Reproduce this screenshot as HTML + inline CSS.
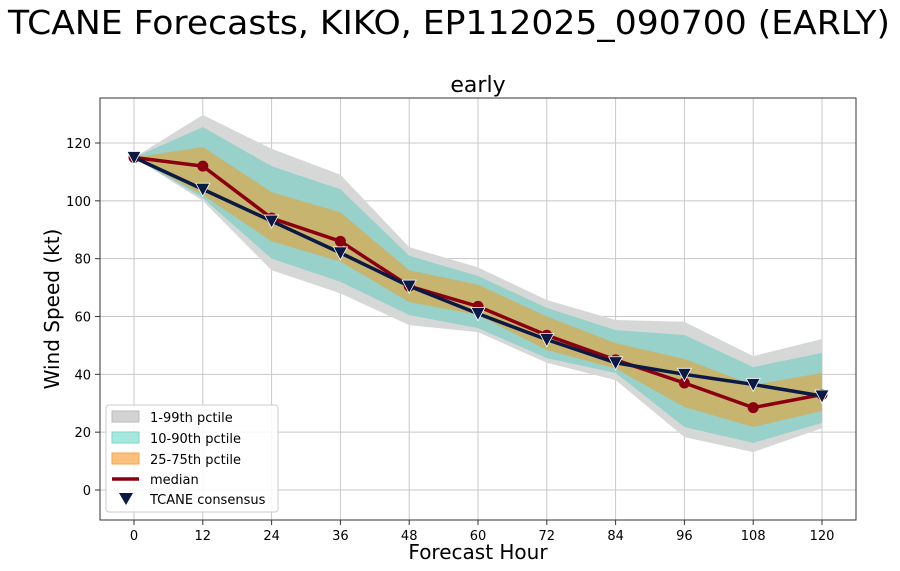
<!DOCTYPE html>
<html><head><meta charset="utf-8">
<style>
body{margin:0;background:#fff;}
svg{display:block;font-family:"DejaVu Sans","Liberation Sans",sans-serif;}
</style></head>
<body>
<svg id="chart" width="900" height="571" xmlns="http://www.w3.org/2000/svg">
<text x="449" y="34" font-size="33" text-anchor="middle" textLength="882" lengthAdjust="spacingAndGlyphs">TCANE Forecasts, KIKO, EP112025_090700 (EARLY)</text>
<text x="478" y="92" font-size="22" text-anchor="middle">early</text>
<g id="grid"></g>
<g id="bands"></g>
<g id="lines"></g>
<rect x="100" y="98" width="756" height="422" fill="none" stroke="#333" stroke-width="1"/>
<g id="ticks"></g>
<text x="478" y="559" font-size="20" text-anchor="middle">Forecast Hour</text>
<text transform="translate(59,309) rotate(-90)" font-size="20" text-anchor="middle">Wind Speed (kt)</text>
<g>
<rect x="106" y="405" width="172" height="107" rx="3" fill="#fff" fill-opacity="0.85" stroke="#ccc"/>
<rect x="112" y="411" width="27" height="11" fill="#d3d3d3" stroke="#bbb"/>
<text x="150" y="422" font-size="13">1-99th pctile</text>
<rect x="112" y="432" width="27" height="11" fill="#a6e8de" stroke="#7fd6c8"/>
<text x="150" y="443" font-size="13">10-90th pctile</text>
<rect x="112" y="453" width="27" height="11" fill="#fbc07e" stroke="#f5a64a"/>
<text x="150" y="464" font-size="13">25-75th pctile</text>
<line x1="112" y1="479" x2="139" y2="479" stroke="#8b0010" stroke-width="3.5"/>
<text x="150" y="484" font-size="13">median</text>
<path d="M119,493 L133,493 L126,505 Z" fill="#0b1a45"/>
<text x="150" y="504" font-size="13">TCANE consensus</text>
</g>
</svg>
<script>
const hours=[0,12,24,36,48,60,72,84,96,108,120];
const p99=[115,129.7,118,109,84,77,65.7,58.8,58.2,46.3,52.2];
const p90=[115,125.5,112,104,81,74,63,55.3,53.6,42.5,47.4];
const p75=[115,118.6,103,96,76,71,60,50.8,45.3,36.3,40.5];
const p25=[115,102,86,79,65,60.5,48.4,42,28.7,21.8,27.3];
const p10=[115,101,80,72,60.5,56,45.6,40.5,21.8,16.3,23.2];
const p1=[115,100,76,68,57,54.6,44,38,18.3,13.1,21.4];
const median=[115,112,94,86,70.5,63.5,53.5,45,37,28.5,33];
const consensus=[115,104,93,82,70.5,61,52,44,40,36.5,32.5];
const xTicks=[0,12,24,36,48,60,72,84,96,108,120];
const yTicks=[0,20,40,60,80,100,120];
const NS="http://www.w3.org/2000/svg";
const X=h=>134+h*(822-134)/120;
const Y=v=>490-v*(490-143)/120;
function mk(tag,attrs,parent){const e=document.createElementNS(NS,tag);for(const k in attrs)e.setAttribute(k,attrs[k]);document.getElementById(parent).appendChild(e);return e;}
xTicks.forEach(t=>{
 const g=mk('line',{x1:X(t),x2:X(t),y1:98,y2:520,stroke:'#c8c8c8','stroke-width':1},'grid');
 
 
 mk('line',{x1:X(t),x2:X(t),y1:520,y2:525,stroke:'#333'},'ticks');
 const tx=mk('text',{x:X(t),y:540,'font-size':13,'text-anchor':'middle'},'ticks');
 tx.textContent=t;
 
 
});
yTicks.forEach(t=>{
 const g=mk('line',{x1:100,x2:856,y1:Y(t),y2:Y(t),stroke:'#c8c8c8','stroke-width':1},'grid');
 
 
 mk('line',{x1:95,x2:100,y1:Y(t),y2:Y(t),stroke:'#333'},'ticks');
 const tx=mk('text',{x:91,y:Y(t)+5,'font-size':13,'text-anchor':'end'},'ticks');
 tx.textContent=t;
 
 
});
function band(hi,lo,fill,name){
 let d='M'+hours.map((h,i)=>X(h)+','+Y(hi[i])).join(' L');
 d+=' L'+hours.slice().reverse().map((h,j)=>{const i=hours.length-1-j;return X(h)+','+Y(lo[i]);}).join(' L')+' Z';
 const p=mk('path',{d:d,fill:fill},'bands');
 
 
}
band(p99,p1,'#d6d7d7','band-1-99');
band(p90,p10,'#97d1c9','band-10-90');
band(p75,p25,'#c6b46f','band-25-75');
function line(arr,color,name){
 const p=mk('polyline',{points:hours.map((h,i)=>X(h)+','+Y(arr[i])).join(' '),fill:'none',stroke:color,'stroke-width':3.5,'stroke-linejoin':'round'},'lines');
 
 
}
line(median,'#8b0010','median-line');
hours.forEach((h,i)=>{
 const c=mk('circle',{cx:X(h),cy:Y(median[i]),r:5.5,fill:'#8b0010'},'lines');
 
 
});
line(consensus,'#0b1a45','consensus-line');
hours.forEach((h,i)=>{
 const x=X(h),y=Y(consensus[i]);
 const m=mk('path',{d:`M${x-7},${y-6} L${x+7},${y-6} L${x},${y+7} Z`,fill:'#0b1a45',stroke:'#fff','stroke-width':0.8},'lines');
 
 
});
</script>
</body></html>
